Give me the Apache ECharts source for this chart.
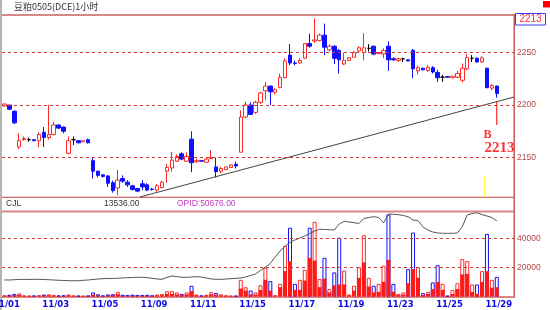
<!DOCTYPE html>
<html><head><meta charset="utf-8">
<script src="https://cdn.jsdelivr.net/npm/echarts@6/dist/echarts.min.js"></script>
<style>html,body{margin:0;padding:0;background:#fff}#c{width:550px;height:310px}</style>
</head><body><div id="c"></div>
<script>
const title = '豆粕0505(DCE)1小时';
const days = ['11/01','11/02','11/03','11/04','11/05','11/08','11/09','11/10','11/11','11/12','11/15','11/16','11/17','11/18','11/19','11/22','11/23','11/24','11/25','11/26','11/29'];
const barsPerDay = 5;
const slotCount = 104;

const open = [2199,2200,2194,2160,2167,2167,2167,2166,2174,2169,2172,2181,2179,2154,2167,2166,2165,2167,2147,2137,2133.5,2132.5,2126,2121,2130,2126.5,2123,2120.5,2125,2124,2120,2119,2121.5,2137,2140,2146.5,2153.5,2146.5,2167.5,2146,2147,2145.5,2149,2141,2137,2138.5,2140.5,2143.5,2155,2188.5,2200,2193,2202.5,2213.5,2218,2212,2216.5,2226,2247.5,2240,2240,2244.5,2258.5,2261,2261.5,2266.5,2252.5,2256,2252,2239,2242.5,2245.5,2251.5,2250,2254,2256,2249,2248.5,2256,2244,2242.5,2244,2243,2252,2232.5,2235,2233,2235.5,2231,2226.5,2227,2226,2226.5,2223.5,2234.5,2244.5,2244.5,2241,2235,2216,2218];
const high = [2201,2200,2195,2173,2170,2169,2167.5,2174,2179,2200,2184,2181.5,2179.5,2170,2170,2166.5,2166,2168,2150,2137.5,2134,2133,2128,2138,2133,2128.5,2124,2121,2128.5,2125.5,2121,2125,2128,2144,2155.5,2153,2155,2155,2175,2149,2147.5,2150,2157,2150,2141,2141.5,2143.5,2146,2195,2203,2202.5,2204,2212.5,2222,2218.5,2216,2230,2244.5,2258,2242.5,2244.5,2259,2268,2282.5,2268,2277.5,2258,2257,2253.5,2250,2245.5,2251.5,2256,2268.5,2258,2256.5,2250.5,2254,2260.5,2245.5,2245,2245,2243.5,2253.5,2237.5,2235.5,2238,2237,2233.5,2228.5,2227.5,2227.5,2232.5,2239.5,2248.5,2247.5,2245.5,2246.5,2235.5,2220,2218.5];
const low = [2199,2195,2182,2158,2166,2165,2165.5,2160,2160,2167,2171,2177,2173,2153,2162,2163.5,2165,2163.5,2130,2131,2131,2122,2116.5,2114,2126,2122,2118.5,2117,2119,2118,2118.5,2117.5,2120.5,2126,2136.5,2146,2147.5,2146,2136,2145,2146,2145,2148.5,2131,2135,2138,2140,2139.5,2155,2187.5,2190.5,2191.5,2201,2204.5,2200,2210,2216,2225.5,2238,2237.5,2239.5,2244,2254.5,2259,2260.5,2247.5,2251,2239,2230,2238,2242,2245,2250,2242.5,2251,2247.5,2248.5,2244.5,2232.5,2242,2241,2241,2241.5,2225.5,2229,2233,2231.5,2230,2222,2222,2226,2225.5,2225.5,2221.5,2233,2241,2240.5,2240,2216,2214,2207];
const close = [2201,2196,2183,2166,2168,2167,2166,2172,2169,2172,2181,2178,2175,2166,2167,2164,2166,2164,2137,2133,2132,2125.5,2118.5,2128.5,2127.5,2124,2119.5,2118,2122,2119,2119.5,2123,2126.5,2140.5,2147.5,2151,2148.5,2151,2145,2147,2146.5,2148.5,2150,2136.5,2139.5,2141,2143,2142,2188.5,2200,2191,2202.5,2211.5,2218,2212.5,2214.5,2226.5,2242,2240,2239.5,2242.5,2258.5,2256,2262,2266.5,2255,2256,2244.5,2243,2242.5,2245,2250,2254.5,2254.5,2254,2248.5,2250,2252,2243,2243,2244,2244,2242,2234.5,2235.5,2233.5,2236,2231.5,2226,2226.5,2226.5,2227.5,2230,2235,2245,2244.5,2241,2245,2216.5,2218.5,2211];

const volume = [900,1200,1800,2100,700,500,600,900,1300,1500,1100,700,800,1400,700,500,400,600,2800,1500,700,1400,1600,3200,1200,1000,1300,1100,1000,1200,800,1400,1700,3600,3700,2800,1800,2800,7400,1400,700,1200,3000,2500,1500,800,600,500,11500,6400,4100,2800,7800,19800,10600,900,8700,34900,47400,8700,11500,18400,47400,51500,12000,26700,5100,16600,40500,17900,1400,7400,20200,42300,12900,7400,8700,21200,56600,8700,1800,2800,18900,44100,20200,2300,3200,9700,21600,8700,500,4600,9200,25800,24400,8300,8300,17500,43200,11500,13536];
const volumeInner = [400,500,900,1100,300,200,300,400,600,700,500,300,400,700,300,200,200,300,1300,700,300,600,800,1600,500,400,600,500,400,600,400,700,800,1800,1900,1400,900,1400,3700,700,300,600,1500,1200,700,400,300,200,5500,4100,1400,1300,4600,11500,4100,400,6400,17500,24400,4600,4600,11000,26700,24800,6400,12400,2800,7800,8300,8300,700,4100,12900,23500,6900,2800,3200,10100,25300,3200,900,1300,9200,18900,12900,1000,1800,5100,10100,4600,200,1800,5100,15200,15600,3200,1800,10100,17500,6000,6400];
const opid = [28250,28250,28360,28440,28510,28440,28510,28510,28440,28360,28250,28140,28060,27980,27980,27980,28140,28250,28440,28630,28740,28820,28820,28890,29010,29120,29200,29270,29270,29120,28890,28630,28510,29200,29760,29570,29270,29270,29390,29500,29390,29010,28630,28510,28510,28630,28740,28890,29010,29390,29950,30520,31850,33170,34500,36960,39230,41120,42450,43400,44150,44910,45860,46800,47450,47370,47300,47180,49460,50480,50210,49950,49650,51540,51920,52220,51920,49830,53240,53130,52980,52680,52220,50970,50780,48320,47180,46430,46050,45930,45930,45930,46050,48430,52860,53430,53740,52980,52490,51920,50676];

const priceTicks = [2150, 2200, 2250];
const volumeTicks = [20000, 40000];
const trendLine = [[27.5, 2112.4], [103.5, 2207.6]];
const signalLine = [[100, 2203], [100, 2181]];
const markerLine = [[97.5, 2133], [97.5, 2112.4]];
const signalLetter = {x: 97.3, y: 2171.2, text: 'B'};
const signalPrice = {x: 97.5, y: 2158.8, text: '2213'};
const lastPriceTag = '2213';

const UP = '#ff2a2a', DOWN = '#1010ff', DOJI = '#000000';
const categories = [];
for (let i = 0; i < slotCount; i++) categories.push(i < open.length ? days[Math.floor(i / barsPerDay)] : '');

const candleData = open.map((o, i) => {
  const item = {value: [o, close[i], low[i], high[i]]};
  if (o === close[i]) item.itemStyle = {color: DOJI, color0: DOJI, borderColor: DOJI, borderColor0: DOJI};
  return item;
});
const volData = volume.map((v, i) => ({value: v, itemStyle: {borderColor: close[i] >= open[i] ? UP : DOWN}}));

const narrow = "'Liberation Sans Narrow','Liberation Sans',sans-serif";
const chart = echarts.init(document.getElementById('c'), null, {renderer: 'canvas'});
const dashed = {color: '#cc3b3b', type: [3, 3], width: 1};
const plain = v => String(v);

chart.setOption({
  animation: false,
  backgroundColor: '#fff',
  grid: [
    {left: 2, right: 36, top: 15, height: 182, containLabel: false, outerBoundsMode: 'none'},
    {left: 2, right: 36, top: 212, height: 84.5, containLabel: false, outerBoundsMode: 'none'}
  ],
  xAxis: [
    {type: 'category', gridIndex: 0, data: categories, show: false},
    {type: 'category', gridIndex: 1, data: categories,
      axisLine: {show: false}, axisTick: {show: false}, splitLine: {show: false},
      axisLabel: {interval: (idx, val) => idx % (barsPerDay * 2) === 0 && val !== '', color: '#0a0ae6', fontWeight: 'bold',
        fontFamily: 'DejaVu Sans', fontSize: 8.5, margin: 4, padding: [0, 0, 0, 4], hideOverlap: false}},
    {type: 'value', gridIndex: 0, min: -0.5, max: slotCount - 0.5, show: false}
  ],
  yAxis: [
    {type: 'value', gridIndex: 0, position: 'right', min: 2112.4, max: 2285.7, scale: true,
      axisLine: {show: false}, axisTick: {show: false}, splitLine: {show: false},
      axisLabel: {customValues: priceTicks, formatter: plain, color: '#b04545', fontSize: 8.5, fontFamily: narrow, margin: 3}},
    {type: 'value', gridIndex: 1, position: 'right', min: 0, max: 58276, interval: 20000,
      axisLine: {show: false}, axisTick: {show: false}, splitLine: {show: false},
      axisLabel: {showMinLabel: false, showMaxLabel: false, formatter: plain, color: '#b04545', fontSize: 8.5, fontFamily: narrow, margin: 3}},
    {type: 'value', gridIndex: 1, min: 22000, max: 54000, show: false}
  ],
  graphic: [
    {type: 'rect', shape: {x: 0, y: 0, width: 2, height: 310}, style: {fill: '#b5b5b5'}},
    {type: 'text', x: 14, y: 7, style: {text: title, font: "9px 'Noto Sans CJK SC'", fill: '#333', verticalAlign: 'middle'}},
    {type: 'rect', shape: {x: 2, y: 14, width: 513, height: 2}, style: {fill: '#d98888'}},
    {type: 'rect', shape: {x: 513.5, y: 14, width: 1.5, height: 284}, style: {fill: '#c85a5a'}},
    {type: 'rect', shape: {x: 2, y: 196.8, width: 512, height: 1}, style: {fill: '#c04040'}},
    {type: 'rect', shape: {x: 2, y: 210.5, width: 512, height: 2}, style: {fill: '#d98888'}},
    {type: 'rect', shape: {x: 2, y: 296, width: 512, height: 2}, style: {fill: '#d98888'}},
    {type: 'text', x: 6, y: 204, style: {text: 'CJL', font: "8.5px " + narrow, fill: '#333', verticalAlign: 'middle'}},
    {type: 'text', x: 104, y: 204, style: {text: volume[volume.length - 1].toFixed(2), font: "8.5px " + narrow, fill: '#333', verticalAlign: 'middle'}},
    {type: 'text', x: 177, y: 204, style: {text: 'OPID:' + opid[opid.length - 1].toFixed(2), font: "8.5px " + narrow, fill: '#c03cc0', verticalAlign: 'middle'}},
    {type: 'rect', shape: {x: 515.5, y: 13.5, width: 30, height: 11.5}, style: {fill: '#fff', stroke: '#3c3cff', lineWidth: 1}},
    {type: 'text', x: 530.5, y: 19.5, style: {text: lastPriceTag, font: "10px " + narrow, fill: '#ff3030', align: 'center', verticalAlign: 'middle'}},
    {type: 'rect', shape: {x: 543, y: 1, width: 7, height: 6.5}, style: {fill: '#ff0000'}}
  ],
  series: [
    {type: 'candlestick', xAxisIndex: 0, yAxisIndex: 0, data: candleData, barWidth: 4,
      itemStyle: {color: '#ffffff', color0: DOWN, borderColor: UP, borderColor0: DOWN, borderWidth: 1},
      markLine: {silent: true, symbol: 'none', label: {show: false}, lineStyle: dashed, data: priceTicks.map(v => ({yAxis: v}))}},
    {type: 'line', xAxisIndex: 2, yAxisIndex: 0, data: trendLine, symbol: 'none', lineStyle: {color: '#444', width: 1}, z: 3},
    {type: 'line', xAxisIndex: 2, yAxisIndex: 0, data: signalLine, symbol: 'none', lineStyle: {color: '#ff0000', width: 1}, z: 3},
    {type: 'line', xAxisIndex: 2, yAxisIndex: 0, data: markerLine, symbol: 'none', lineStyle: {color: '#ffff33', width: 1}, z: 3},
    {type: 'scatter', xAxisIndex: 2, yAxisIndex: 0, symbolSize: 1, itemStyle: {color: 'rgba(0,0,0,0)'}, z: 4,
      data: [
        {value: [signalLetter.x, signalLetter.y], label: {show: true, formatter: signalLetter.text, fontSize: 12}},
        {value: [signalPrice.x, signalPrice.y], label: {show: true, formatter: signalPrice.text, fontSize: 15}}
      ],
      label: {position: 'inside', align: 'left', verticalAlign: 'middle', color: '#ff0000', fontWeight: 'bold', fontFamily: 'Liberation Serif'}},
    {type: 'bar', xAxisIndex: 1, yAxisIndex: 1, data: volData, barWidth: 4, barGap: '-100%',
      itemStyle: {color: '#ffffff', borderWidth: 1},
      markLine: {silent: true, symbol: 'none', label: {show: false}, lineStyle: dashed, data: volumeTicks.map(v => ({yAxis: v}))}},
    {type: 'bar', xAxisIndex: 1, yAxisIndex: 1, data: volumeInner, barWidth: 4, barGap: '-100%', itemStyle: {color: '#ff1a1a'}},
    {type: 'line', xAxisIndex: 1, yAxisIndex: 2, data: opid, symbol: 'none', lineStyle: {color: '#555', width: 1}, z: 3}
  ]
});
</script></body></html>
